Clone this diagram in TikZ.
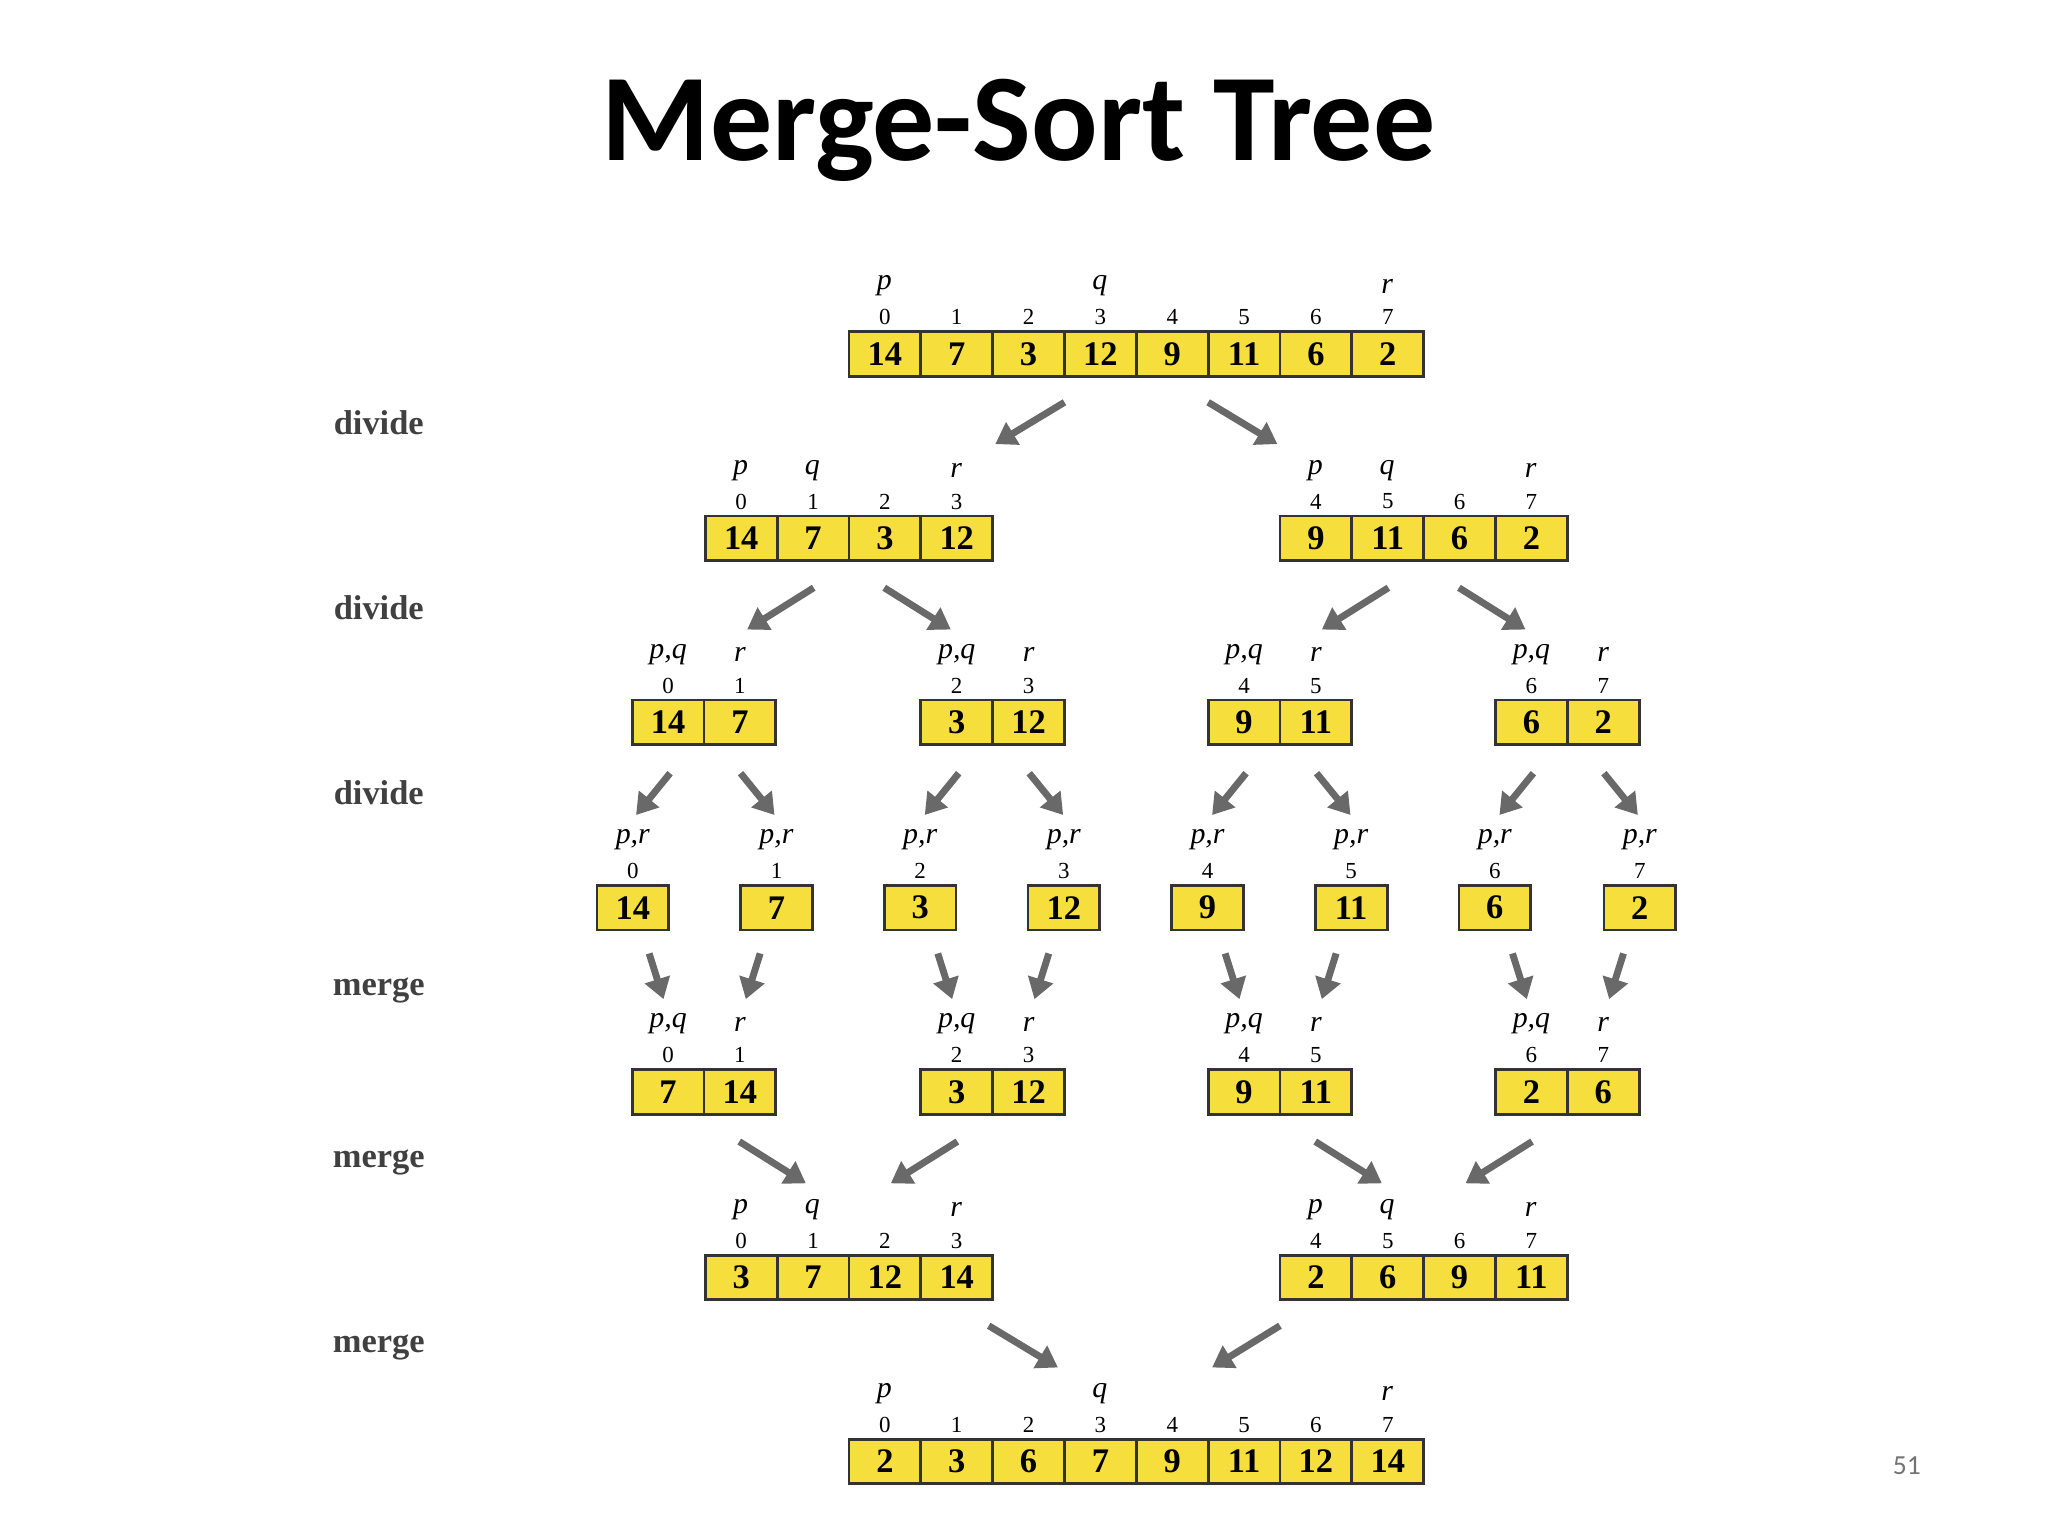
\documentclass[tikz,border=0pt]{standalone}
\usepackage{fontspec}
\setmainfont{Liberation Serif}
\newfontfamily\titlefont{Carlito}
\usetikzlibrary{arrows.meta}
\definecolor{cellfill}{RGB}{246,222,60}
\definecolor{arrgray}{RGB}{105,105,105}
\tikzset{
 cellbox/.style={draw=black!80,line width=0.6pt,fill=cellfill,minimum width=0.55cm,minimum height=0.34cm,inner sep=0pt,font=\fontsize{7.5}{8}\selectfont\bfseries},
 idxlab/.style={font=\fontsize{5}{6}\selectfont,inner sep=0pt},
 pqr/.style={font=\fontsize{6.5}{7}\selectfont\itshape,inner sep=0pt},
 sidelab/.style={font=\fontsize{7.5}{8}\selectfont\bfseries,text=black!75,inner sep=0pt},
 arr/.style={arrgray,line width=1.5pt,-{Triangle[length=4.5pt,width=5.5pt]}}
}
% #1 name, #2 x left, #3 y center, #4 start index, #5 values
\newcommand\cellrow[5]{%
 \foreach \cv [count=\i from 0] in {#5}{%
  \pgfmathsetmacro\cx{#2+\i*55+27.5}%
  \pgfmathtruncatemacro\ix{#4+\i}%
  \node[cellbox] (#1-\i) at (\cx,#3) {\cv};
  \node[idxlab] at (\cx,#3-28) {\ix};
 }}
\newcommand\lab[3]{\node[pqr] at (#1,#2-52) {#3};}
\begin{document}
\begin{tikzpicture}[x=0.01cm,y=-0.01cm]
\useasboundingbox[fill=white] (0,0) rectangle (1568,1176);
\node[font=\titlefont\fontsize{27}{32}\selectfont\bfseries] (title) at (780,100) {Merge-Sort Tree};
\node[text=black!55,font=\titlefont\fontsize{6}{7}\selectfont] (pg) at (1460,1122) {51};
\foreach \t/\y [count=\k] in {divide/324,divide/465,divide/607,merge/758,merge/890,merge/1032}
 \node[sidelab] (side\k) at (290,\y) {\t};
\cellrow{a}{650}{271}{0}{14,7,3,12,9,11,6,2}
\lab{677}{271}{p}\lab{842}{271}{q}\lab{1062}{271}{r}
\cellrow{bl}{540}{412}{0}{14,7,3,12}
\cellrow{br}{980}{412}{4}{9,11,6,2}
\lab{567}{412}{p}\lab{622}{412}{q}\lab{732}{412}{r}
\lab{1007}{412}{p}\lab{1062}{412}{q}\lab{1172}{412}{r}
\cellrow{c1}{484}{553}{0}{14,7}
\cellrow{c2}{705}{553}{2}{3,12}
\cellrow{c3}{925}{553}{4}{9,11}
\cellrow{c4}{1145}{553}{6}{6,2}
\foreach \x in {484,705,925,1145}{\lab{\x+27.5}{553}{p,q}\lab{\x+82.5}{553}{r}}
\cellrow{d1}{457}{695}{0}{14}
\cellrow{d2}{567}{695}{1}{7}
\cellrow{d3}{677}{695}{2}{3}
\cellrow{d4}{787}{695}{3}{12}
\cellrow{d5}{897}{695}{4}{9}
\cellrow{d6}{1007}{695}{5}{11}
\cellrow{d7}{1117}{695}{6}{6}
\cellrow{d8}{1228}{695}{7}{2}
\foreach \x in {457,567,677,787,897,1007,1117,1228}{\lab{\x+27.5}{695}{p,r}}
\cellrow{e1}{484}{836}{0}{7,14}
\cellrow{e2}{705}{836}{2}{3,12}
\cellrow{e3}{925}{836}{4}{9,11}
\cellrow{e4}{1145}{836}{6}{2,6}
\foreach \x in {484,705,925,1145}{\lab{\x+27.5}{836}{p,q}\lab{\x+82.5}{836}{r}}
\cellrow{fl}{540}{978}{0}{3,7,12,14}
\cellrow{fr}{980}{978}{4}{2,6,9,11}
\lab{567}{978}{p}\lab{622}{978}{q}\lab{732}{978}{r}
\lab{1007}{978}{p}\lab{1062}{978}{q}\lab{1172}{978}{r}
\cellrow{g}{650}{1119}{0}{2,3,6,7,9,11,12,14}
\lab{677}{1119}{p}\lab{842}{1119}{q}\lab{1062}{1119}{r}
\draw[arr] (815,308) -- (762,340);
\draw[arr] (925,308) -- (978,340);
\foreach \x in {623,1063}{\draw[arr] (\x,450) -- (\x-51,482);}
\foreach \x in {677,1117}{\draw[arr] (\x,450) -- (\x+51,482);}
\foreach \x in {513,734,954,1174}{\draw[arr] (\x,592) -- (\x-26,624);}
\foreach \x in {567,788,1008,1228}{\draw[arr] (\x,592) -- (\x+26,624);}
\foreach \x in {497,718,938,1158}{\draw[arr] (\x,730) -- (\x+11,765);}
\foreach \x in {582,803,1023,1243}{\draw[arr] (\x,730) -- (\x-11,765);}
\foreach \x in {566,1007}{\draw[arr] (\x,874) -- (\x+51,906);}
\foreach \x in {733,1173}{\draw[arr] (\x,874) -- (\x-51,906);}
\draw[arr] (757,1015) -- (810,1047);
\draw[arr] (980,1015) -- (928,1047);
\end{tikzpicture}
\end{document}
